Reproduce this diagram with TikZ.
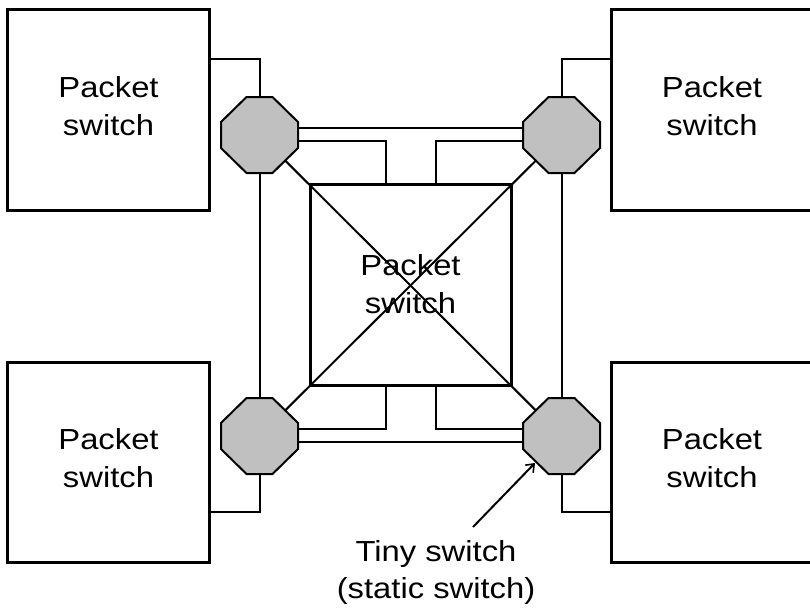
\documentclass[tikz,border=0pt]{standalone}
\usepackage{fontspec}
\setmainfont[FakeStretch=1.13]{Liberation Sans}
\usetikzlibrary{arrows.meta,calc}
\definecolor{octgray}{HTML}{C0C0C0}
\begin{document}
\begin{tikzpicture}[x=1pt,y=-1pt,
  psbox/.style={draw,line width=3pt,minimum width=202pt,minimum height=200pt,inner sep=0pt,
    align=center,text depth=8pt,font=\fontsize{29}{38}\selectfont},
  cbox/.style={draw,line width=3pt,minimum width=201pt,minimum height=201pt,inner sep=0pt,
    align=center,text depth=2pt,font=\fontsize{29}{38}\selectfont},
  wire/.style={line width=2pt},
  octstyle/.style={draw,line width=2pt,fill=octgray,line join=miter},
  lbl/.style={align=center,inner sep=0pt,font=\fontsize{29}{37}\selectfont}]
\useasboundingbox (0,0) rectangle (810,610);
\clip (0,0) rectangle (810,610);
% octagon centres
\coordinate (tl) at (259.5,135);
\coordinate (tr) at (561.5,135);
\coordinate (bl) at (259.5,436);
\coordinate (br) at (561.5,436);
% boxes
\node[psbox] (tlbox) at (108.5,110) {Packet\\switch};
\node[psbox] (blbox) at (108.5,462) {Packet\\switch};
\node[psbox] (trbox) at (712,110) {Packet\\switch};
\node[psbox] (brbox) at (712,462) {Packet\\switch};
% junction coordinates
\coordinate (jtl) at (259.5,59);
\coordinate (jtr) at (561.5,59);
\coordinate (jbl) at (259.5,512);
\coordinate (jbr) at (561.5,512);
\coordinate (ta) at (259.5,128);
\coordinate (tb) at (561.5,128);
\coordinate (tc) at (259.5,141);
\coordinate (td) at (386,141);
\coordinate (te) at (561.5,141);
\coordinate (tf) at (436,141);
\coordinate (ba) at (259.5,442);
\coordinate (bb) at (561.5,442);
\coordinate (bc) at (259.5,429);
\coordinate (bd) at (386,429);
\coordinate (be) at (561.5,429);
\coordinate (bf) at (436,429);
% centre box position (drawn later)
\coordinate (cc) at (410.5,284.5);
% diagonals
\draw[wire] (tl) -- (br);
\draw[wire] (tr) -- (bl);
% centre box
\node[cbox] (cbox) at (cc) {Packet\\switch};
% wires (drawn under octagons)
\draw[wire] (tlbox.east |- jtl) -- (jtl) -- (tl);
\draw[wire] (trbox.west |- jtr) -- (jtr) -- (tr);
\draw[wire] (blbox.east |- jbl) -- (jbl) -- (bl);
\draw[wire] (brbox.west |- jbr) -- (jbr) -- (br);
\draw[wire] (tl) -- (bl);
\draw[wire] (tr) -- (br);
\draw[wire] (ta) -- (tb);
\draw[wire] (ba) -- (bb);
\draw[wire] (tc) -- (td) -- (td |- cbox.north);
\draw[wire] (te) -- (tf) -- (tf |- cbox.north);
\draw[wire] (bc) -- (bd) -- (bd |- cbox.south);
\draw[wire] (be) -- (bf) -- (bf |- cbox.south);
% octagons
\foreach \c in {tl,tr,bl,br}{
  \draw[octstyle,shift={(\c)}] (-13,-38) -- (13,-38) -- (38.5,-13) -- (38.5,13) -- (13,38) -- (-13,38) -- (-38.5,13) -- (-38.5,-13) -- cycle;
}
% label and arrow
\node[lbl] (tiny) at (436,572) {Tiny switch\\(static switch)};
\coordinate (atail) at (473,527);
\coordinate (atip) at (535,463);
\draw[wire,-{Straight Barb[length=7pt,width=11pt,line width=1.6pt]}] (atail) -- (atip);
\end{tikzpicture}
\end{document}
